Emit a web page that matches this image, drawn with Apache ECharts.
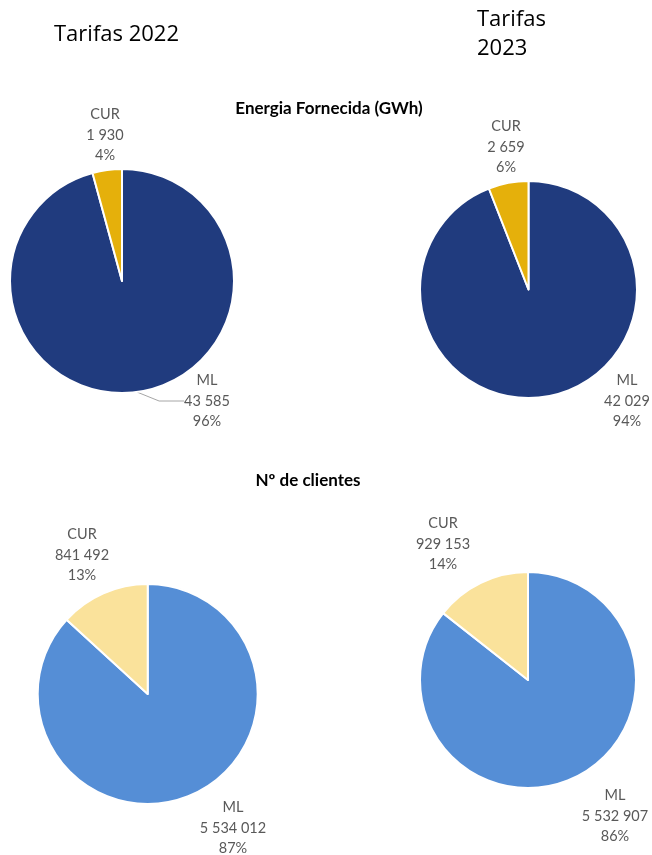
<!DOCTYPE html>
<html>
<head>
<meta charset="utf-8">
<script src="https://cdn.jsdelivr.net/npm/echarts@6/dist/echarts.min.js"></script>
<style>
  html, body { margin: 0; padding: 0; background: #fff; }
  #chart { width: 652px; height: 855px; }
</style>
</head>
<body>
<div id="chart"></div>
<script>
// Supply segments
const categories = ['ML', 'CUR'];

// Energia fornecida (GWh)
const energia2022 = [43585, 1930];
const energia2023 = [42029, 2659];

// Nº de clientes
const clientes2022 = [5534012, 841492];
const clientes2023 = [5532907, 929153];

const yearTitles = ['Tarifas 2022', 'Tarifas\n2023'];
const sectionTitles = ['Energia Fornecida (GWh)', 'Nº de clientes'];

const FONT = 'Lato, "Open Sans", sans-serif';
const TITLE_FONT = '"Open Sans", Lato, sans-serif';
const energyColors = ['#203B7E', '#E5B00B'];
const clientColors = ['#558ED6', '#FAE29B'];

// Thousands grouped with a space, e.g. 43 585
function fmt(v) {
  return String(v).replace(/\B(?=(\d{3})+(?!\d))/g, ' ');
}

// Label anchor (centre of the text block) for each pie: [ML, CUR]
const labelSpots = [
  [[207, 401], [105, 135]],
  [[627, 401], [506, 147]],
  [[233, 828], [82, 555]],
  [[615, 816], [443, 544]]
];

function pieSeries(idx, values, colors, center, radius) {
  return {
    type: 'pie',
    center: center,
    radius: radius,
    startAngle: 90,
    clockwise: true,
    silent: true,
    animation: false,
    itemStyle: { borderColor: '#ffffff', borderWidth: 2 },
    label: {
      show: true,
      position: 'outside',
      overflow: 'none',
      fontFamily: FONT,
      fontSize: 14.5,
      lineHeight: 20.5,
      color: '#595959',
      align: 'center',
      formatter: p => p.name + '\n' + fmt(p.value) + '\n' + Math.round(p.percent) + '%'
    },
    labelLine: {
      show: idx === 0,
      length: 8,
      length2: 25,
      lineStyle: { color: '#A6A6A6', width: 1 }
    },
    labelLayout: function (params) {
      const spot = labelSpots[idx][params.dataIndex];
      return { x: spot[0], y: spot[1], align: 'center', verticalAlign: 'middle' };
    },
    data: categories.map((c, i) => ({
      name: c,
      value: values[i],
      itemStyle: { color: colors[i] },
      labelLine: { show: idx === 0 && i === 0 }
    }))
  };
}

const chart = echarts.init(document.getElementById('chart'), null, { renderer: 'canvas' });

chart.setOption({
  backgroundColor: '#ffffff',
  animation: false,
  title: [
    { text: yearTitles[0], left: 49, top: 19,
      textStyle: { fontFamily: TITLE_FONT, fontSize: 22, fontWeight: 'normal', color: '#000', lineHeight: 22 } },
    { text: yearTitles[1], left: 472, top: 0,
      textStyle: { fontFamily: TITLE_FONT, fontSize: 22, fontWeight: 'normal', color: '#000', lineHeight: 29 } },
    { text: sectionTitles[0], left: 324, top: 95, textAlign: 'center',
      textStyle: { fontFamily: FONT, fontSize: 17, fontWeight: 'bold', color: '#000', lineHeight: 17 } },
    { text: sectionTitles[1], left: 303, top: 467, textAlign: 'center',
      textStyle: { fontFamily: FONT, fontSize: 17, fontWeight: 'bold', color: '#000', lineHeight: 17 } }
  ],
  series: [
    pieSeries(0, energia2022, energyColors, [122, 281], 112),
    pieSeries(1, energia2023, energyColors, [528.5, 289.5], 108.5),
    pieSeries(2, clientes2022, clientColors, [147.7, 694], 110),
    pieSeries(3, clientes2023, clientColors, [528, 680], 108)
  ]
});
</script>
</body>
</html>
